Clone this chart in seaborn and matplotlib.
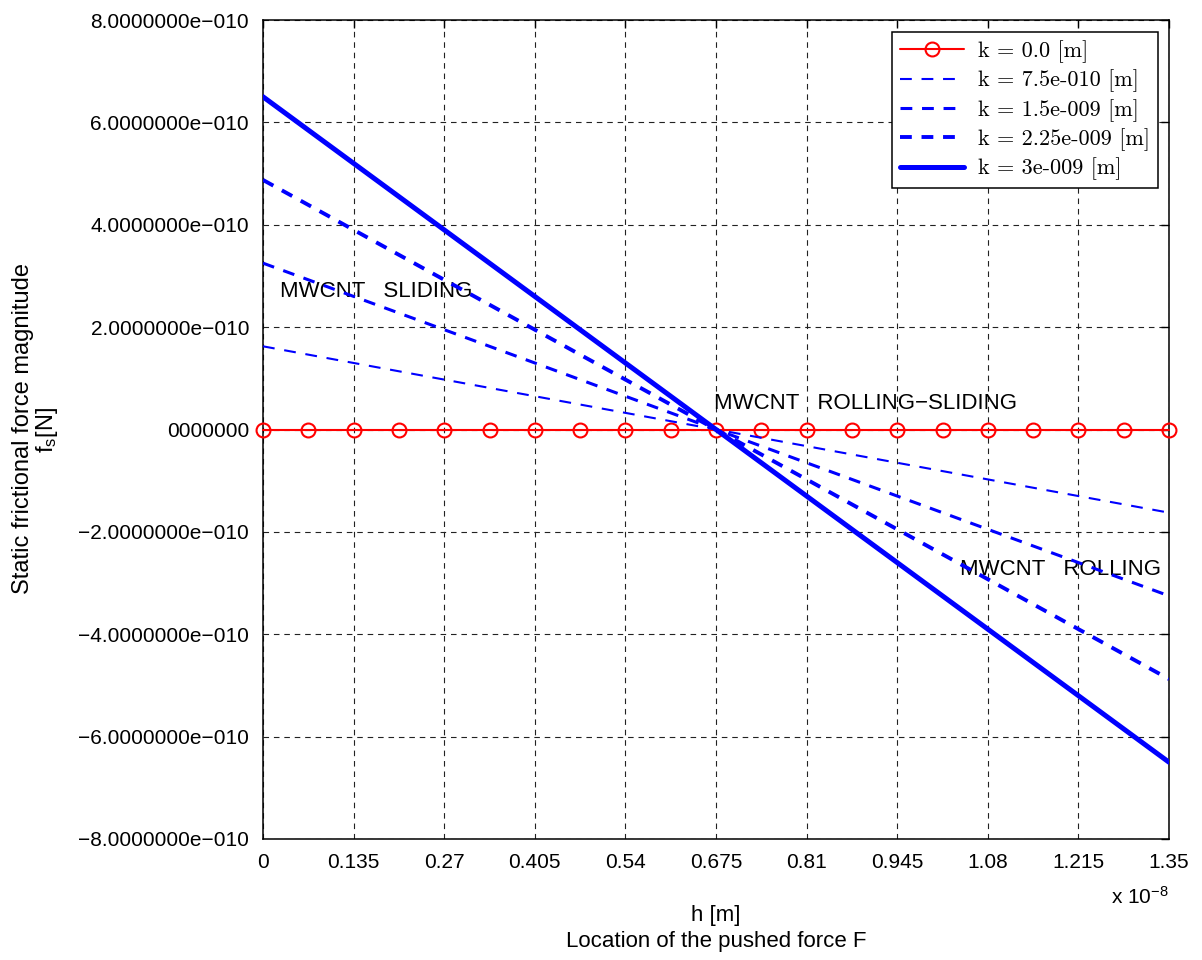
import matplotlib
matplotlib.use('Agg')
import matplotlib.pyplot as plt
from matplotlib.font_manager import FontProperties
import seaborn as sns

# h axis in units of 1e-8 m
h_ticks = [0, 0.135, 0.27, 0.405, 0.54, 0.675, 0.81, 0.945, 1.08, 1.215, 1.35]
h_tick_labels = ['0', '0.135', '0.27', '0.405', '0.54', '0.675', '0.81', '0.945', '1.08', '1.215', '1.35']
h_marks = [0.0, 0.0675, 0.135, 0.2025, 0.27, 0.3375, 0.405, 0.4725, 0.54, 0.6075, 0.675,
           0.7425, 0.81, 0.8775, 0.945, 1.0125, 1.08, 1.1475, 1.215, 1.2825, 1.35]
fs_zero = [0.0] * 21
h_ends = [0.0, 1.35]

# static friction force [N] at the two ends of each straight line
fs_k1 = [1.625e-10, -1.625e-10]
fs_k2 = [3.25e-10, -3.25e-10]
fs_k3 = [4.875e-10, -4.875e-10]
fs_k4 = [6.5e-10, -6.5e-10]

y_ticks = [-8e-10, -6e-10, -4e-10, -2e-10, 0, 2e-10, 4e-10, 6e-10, 8e-10]
y_tick_labels = ['\u22128.0000000e\u2212010', '\u22126.0000000e\u2212010', '\u22124.0000000e\u2212010',
                 '\u22122.0000000e\u2212010', '0000000', '2.0000000e\u2212010', '4.0000000e\u2212010',
                 '6.0000000e\u2212010', '8.0000000e\u2212010']

labels = ['k = 0.0 [m]', 'k = 7.5e-010 [m]', 'k = 1.5e-009 [m]', 'k = 2.25e-009 [m]', 'k = 3e-009 [m]']

sns.set_style('white')
plt.rcParams['font.family'] = ['Liberation Sans', 'DejaVu Sans']
plt.rcParams['text.color'] = 'black'
plt.rcParams['mathtext.fontset'] = 'custom'
plt.rcParams['mathtext.rm'] = 'Liberation Sans'
plt.rcParams['mathtext.it'] = 'Liberation Sans'
plt.rcParams['lines.scale_dashes'] = False

fig = plt.figure(figsize=(12.02, 9.6), dpi=100)
ax = fig.add_axes([263 / 1202, 1 - 839 / 960, 906 / 1202, 819 / 960])

sns.lineplot(x=h_marks, y=fs_zero, ax=ax, color='red', linewidth=1.5, marker='o',
             markersize=10, markerfacecolor='none', markeredgecolor='red',
             markeredgewidth=1.5, clip_on=False, label=labels[0], zorder=3)
dash = (8.5, 7)
sns.lineplot(x=h_ends, y=fs_k1, ax=ax, color='blue', linewidth=1.5, dashes=dash, label=labels[1], zorder=4)
sns.lineplot(x=h_ends, y=fs_k2, ax=ax, color='blue', linewidth=2.2, dashes=dash, label=labels[2], zorder=4)
sns.lineplot(x=h_ends, y=fs_k3, ax=ax, color='blue', linewidth=2.8, dashes=dash, label=labels[3], zorder=4)
sns.lineplot(x=h_ends, y=fs_k4, ax=ax, color='blue', linewidth=3.6, label=labels[4], zorder=4)

ax.set_xlim(0, 1.35)
ax.set_ylim(-8e-10, 8e-10)
ax.set_xticks(h_ticks)
ax.set_xticklabels(h_tick_labels)
ax.set_yticks(y_ticks)
ax.set_yticklabels(y_tick_labels)
ax.tick_params(direction='in', length=6, width=1, top=True, right=True,
               labelsize=15, colors='black', pad=10)
ax.grid(True, color='#222222', linestyle=(0, (4, 3.5)), linewidth=0.8)
for s in ax.spines.values():
    s.set_visible(True)
    s.set_color('black')
    s.set_linewidth(1.1)

ax.text(0.025, 2.7e-10, 'MWCNT   SLIDING', fontsize=16, va='center', ha='left', zorder=2)
ax.text(0.672, 0.5e-10, 'MWCNT   ROLLING\u2212SLIDING', fontsize=16, va='center', ha='left', zorder=2)
ax.text(1.039, -2.74e-10, 'MWCNT   ROLLING', fontsize=16, va='center', ha='left', zorder=2)

leg = ax.legend(loc='upper right', bbox_to_anchor=(0.988, 0.985), borderaxespad=0,
                prop=FontProperties(family='cmr10', size=16), fancybox=False,
                handlelength=2.9, labelspacing=0.3, borderpad=0.35, handletextpad=0.63)
leg.get_frame().set_edgecolor('black')
leg.get_frame().set_linewidth(1.1)
leg.get_frame().set_alpha(1)

fig.text(1169 / 1202, 1 - 897 / 960, r'x 10$^{-8}$', fontsize=15, ha='right', va='center')
fig.text(716 / 1202, 1 - 915 / 960, 'h [m]', fontsize=16, ha='center', va='center')
fig.text(716 / 1202, 1 - 942 / 960, 'Location of the pushed force F', fontsize=16, ha='center', va='center')
fig.text(23 / 1202, 1 - 429 / 960, 'Static frictional force magnitude', fontsize=17,
         rotation=90, ha='center', va='center')
fig.text(47 / 1202, 1 - 430 / 960, r'f$_\mathrm{s}$[N]', fontsize=17,
         rotation=90, ha='center', va='center')

fig.savefig('out.png', dpi=100)
